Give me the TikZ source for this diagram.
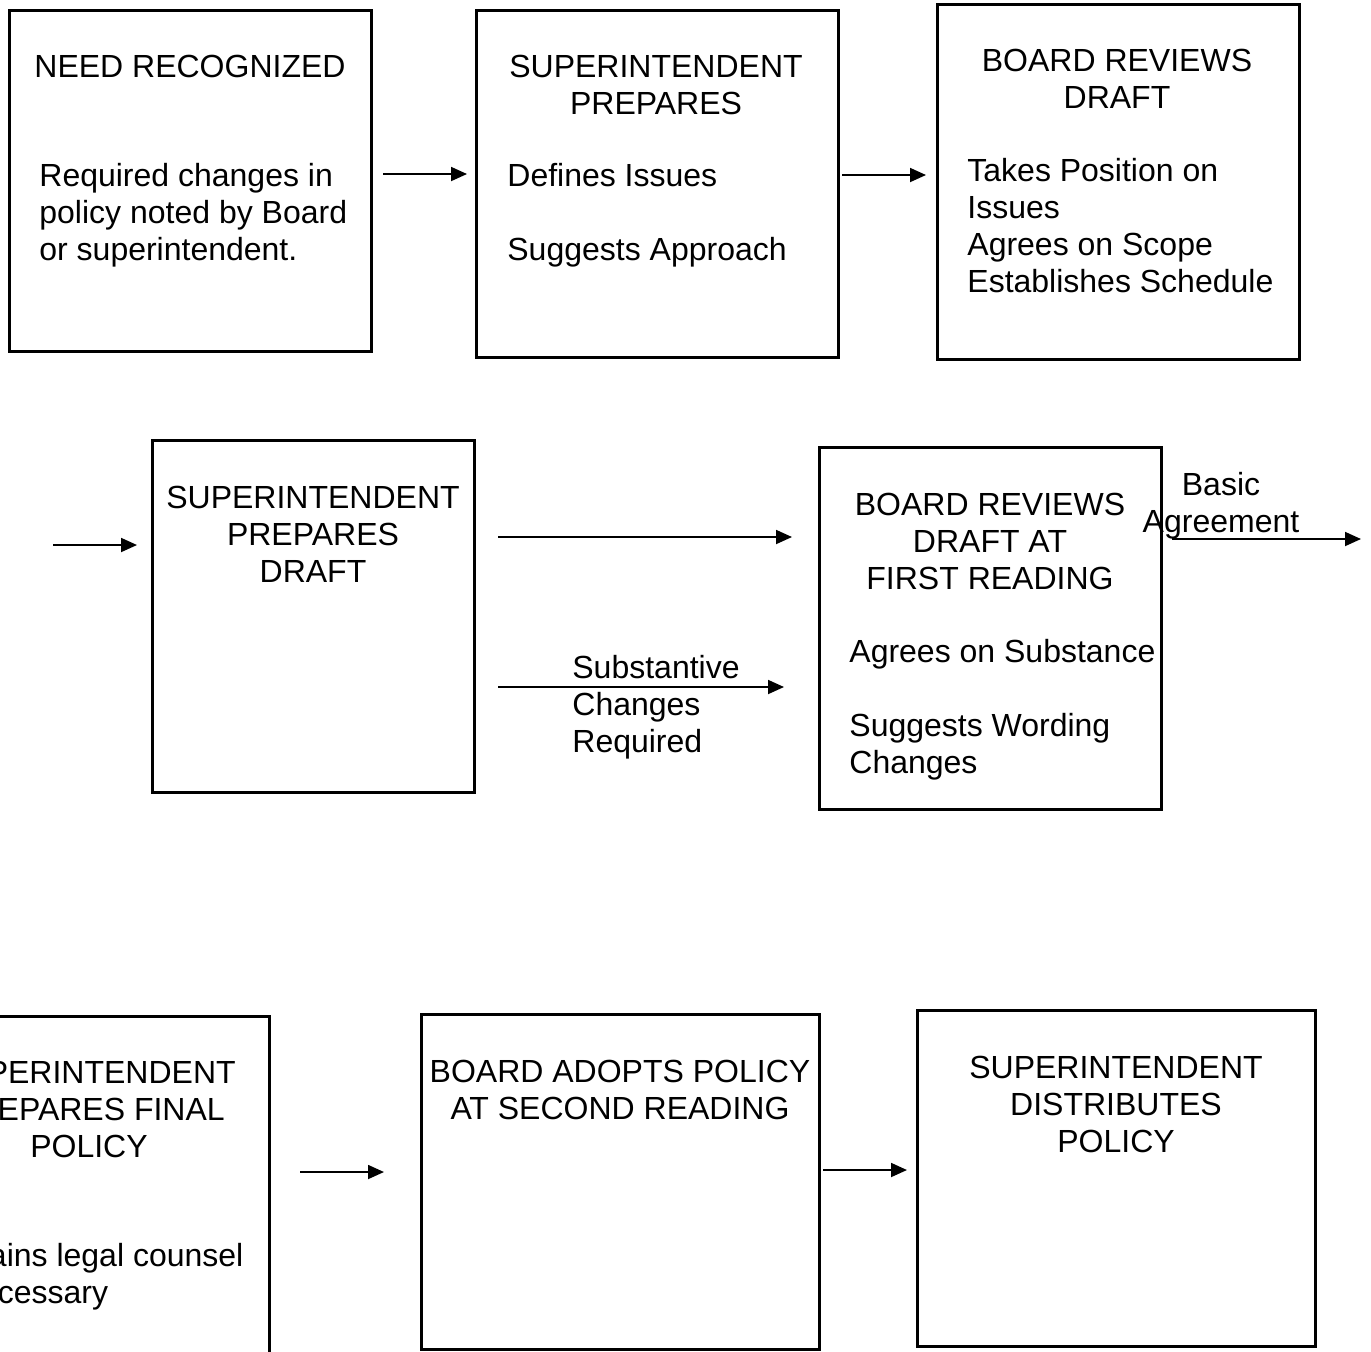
\documentclass[tikz,border=0pt]{standalone}
\usepackage{fontspec}
\setmainfont{Liberation Sans}
\usetikzlibrary{arrows.meta, fit}

\tikzset{
  box/.style={draw, line width=1.5pt, inner sep=0pt},
  head/.style={anchor=north, align=center, inner sep=0pt,
    font=\fontsize{16pt}{18.5pt}\selectfont},
  body/.style={anchor=north west, align=left, inner sep=0pt,
    font=\fontsize{16pt}{18.5pt}\selectfont},
  flow/.style={-{Triangle[length=8pt,width=7pt]}, line width=0.9pt},
}

\begin{document}
\begin{tikzpicture}[x=0.5pt, y=-0.5pt]
    \useasboundingbox (0,0) rectangle (1371,1351);
    \clip (0,0) rectangle (1371,1351);

    % Draw the boxes
    \node[box, fit={(9,10) (371,351)}]      (need)    {};
    \node[box, fit={(476,10) (838,357)}]    (prep)    {};
    \node[box, fit={(937,4) (1299,359)}]    (scope)   {};
    \node[box, fit={(152,440) (474,792)}]   (draft)   {};
    \node[box, fit={(819,447) (1161,809)}]  (first)   {};
    \node[box, fit={(-40,1016) (269,1380)}] (final)   {};
    \node[box, fit={(421,1014) (819,1349)}] (adopt)   {};
    \node[box, fit={(917,1010) (1315,1346)}](distrib) {};

    % Texts of the boxes
    \node[head] (need-t) at (190,55) {NEED RECOGNIZED};
    \node[body] (need-b) at (39,163) {Required changes in\\policy noted by Board\\or superintendent.};

    \node[head] (prep-t) at (656,54.5) {SUPERINTENDENT\\PREPARES};
    \node[body] (prep-b) at (507,163) {Defines Issues\\[18.5pt]Suggests Approach};

    \node[head] (scope-t) at (1117,48.5) {BOARD REVIEWS\\DRAFT};
    \node[body] (scope-b) at (967,158) {Takes Position on\\Issues\\Agrees on Scope\\Establishes Schedule};

    \node[head] (draft-t) at (313,485.5) {SUPERINTENDENT\\PREPARES\\DRAFT};

    \node[head] (first-t) at (990,492.5) {BOARD REVIEWS\\DRAFT AT\\FIRST READING};
    \node[body] (first-b) at (849,639) {Agrees on Substance\\[18.5pt]Suggests Wording\\Changes};

    \node[head] (final-t) at (89,1060.5) {SUPERINTENDENT\\PREPARES FINAL\\POLICY};
    \node[body] (final-b) at (-63,1243) {Obtains legal counsel\\if necessary};

    \node[head] (adopt-t) at (620,1059.5) {BOARD ADOPTS POLICY\\AT SECOND READING};

    \node[head] (distrib-t) at (1116,1055.5) {SUPERINTENDENT\\DISTRIBUTES\\POLICY};

    % Arrow ends
    \coordinate (a1s) at (383,174);  \coordinate (a1e) at (467,174);
    \coordinate (a2s) at (842,175);  \coordinate (a2e) at (926,175);
    \coordinate (a3s) at (53,545);   \coordinate (a3e) at (137,545);
    \coordinate (a4s) at (498,537);  \coordinate (a4e) at (792,537);
    \coordinate (a5s) at (498,687);  \coordinate (a5e) at (784,687);
    \coordinate (a6s) at (1172,539); \coordinate (a6e) at (1361,539);
    \coordinate (a7s) at (300,1172); \coordinate (a7e) at (384,1172);
    \coordinate (a8s) at (823,1170); \coordinate (a8e) at (907,1170);

    % Connect the boxes with arrows
    \draw[flow] (a1s) -- (a1e);
    \draw[flow] (a2s) -- (a2e);
    \draw[flow] (a3s) -- (a3e);
    \draw[flow] (a4s) -- (a4e);
    \draw[flow] (a5s) -- (a5e);
    \draw[flow] (a6s) -- (a6e);
    \draw[flow] (a7s) -- (a7e);
    \draw[flow] (a8s) -- (a8e);

    % Arrow labels
    \node[head] (basic) at (1221,472) {Basic\\Agreement};
    \node[body] (subst) at (572,655) {Substantive\\Changes\\Required};
\end{tikzpicture}
\end{document}
